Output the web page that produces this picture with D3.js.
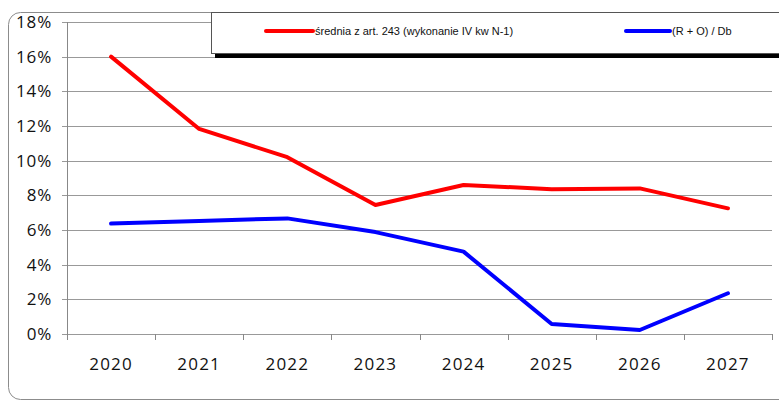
<!DOCTYPE html>
<html><head><meta charset="utf-8">
<script src="https://cdn.jsdelivr.net/npm/d3@7/dist/d3.min.js"></script>
<style>body{margin:0;background:#fff}svg{display:block}</style>
</head><body>
<script>
const years = ["2020","2021","2022","2023","2024","2025","2026","2027"];
const sredniaValues = [16.0, 11.83, 10.2, 7.44, 8.6, 8.35, 8.4, 7.25];
const roDbValues = [6.37, 6.52, 6.67, 5.88, 4.75, 0.58, 0.23, 2.35];
const yTicks = [0,2,4,6,8,10,12,14,16,18];
const seriesNames = ["średnia z art. 243 (wykonanie IV kw N-1)", "(R + O) / Db"];
const seriesColors = ["#ff0000", "#0000ff"];

(function () {
const W = 779, H = 403;
const svg = d3.select("body").append("svg").attr("width", W).attr("height", H);

// outer rounded border
svg.append("rect").attr("x", 8.5).attr("y", 12.5).attr("width", 790).attr("height", 387)
  .attr("rx", 12).attr("fill", "#fff").attr("stroke", "#8c8c8c").attr("stroke-width", 1);

const mLeft = 67, mRight = 772, mTop = 22, mBottom = 334;
const x = d3.scaleBand().domain(years).range([mLeft, mRight]);
const y = d3.scaleLinear().domain([0, 18]).range([mBottom, mTop]);

// gridlines
svg.append("g").selectAll("line").data(yTicks).join("line")
  .attr("x1", mLeft - 5).attr("x2", mRight)
  .attr("y1", d => Math.round(y(d)) + 0.5).attr("y2", d => Math.round(y(d)) + 0.5)
  .attr("stroke", "#999").attr("stroke-width", 1);

// y axis line
svg.append("line").attr("x1", mLeft + 0.5).attr("x2", mLeft + 0.5).attr("y1", mTop).attr("y2", mBottom + 1)
  .attr("stroke", "#888");

// x ticks
const xt = years.map(d => x(d)).concat([mRight]);
svg.append("g").selectAll("line").data(xt).join("line")
  .attr("x1", d => Math.round(d) + 0.5).attr("x2", d => Math.round(d) + 0.5)
  .attr("y1", mBottom).attr("y2", mBottom + 6).attr("stroke", "#888");

// y labels
svg.append("g").selectAll("text").data(yTicks).join("text")
  .attr("x", 52).attr("y", d => y(d)).attr("dy", "0.36em").attr("text-anchor", "end")
  .attr("font-family", "Open Sans, sans-serif").attr("font-size", 17).attr("letter-spacing", 0.8)
  .attr("fill", "#111")
  .text(d => d + "%");

// x labels
svg.append("g").selectAll("text").data(years).join("text")
  .attr("x", d => x(d) + x.bandwidth() / 2).attr("y", 364).attr("dy", "0.36em")
  .attr("text-anchor", "middle")
  .attr("font-family", "Open Sans, sans-serif").attr("font-size", 17).attr("letter-spacing", 1.2)
  .attr("fill", "#111")
  .text(d => d);

const line = d3.line().x((d, i) => x(years[i]) + x.bandwidth() / 2).y(d => y(d));
[sredniaValues, roDbValues].forEach((vals, k) => {
  svg.append("path").datum(vals).attr("d", line).attr("fill", "none")
    .attr("stroke", seriesColors[k]).attr("stroke-width", 4)
    .attr("stroke-linejoin", "round").attr("stroke-linecap", "round");
});

// legend
svg.append("rect").attr("x", 215).attr("y", 53).attr("width", 570).attr("height", 5).attr("fill", "#000");
svg.append("rect").attr("x", 211.5).attr("y", 12.5).attr("width", 580).attr("height", 41)
  .attr("fill", "#fff").attr("stroke", "#555");
const legX = [266, 626];
const legLen = [47, 44];
seriesNames.forEach((n, k) => {
  svg.append("line").attr("x1", legX[k]).attr("x2", legX[k] + legLen[k]).attr("y1", 31).attr("y2", 31)
    .attr("stroke", seriesColors[k]).attr("stroke-width", 4).attr("stroke-linecap", "round");
  svg.append("text").attr("x", legX[k] + legLen[k] + 2).attr("y", 31).attr("dy", "0.35em")
    .attr("font-family", "Liberation Sans, Arial, sans-serif").attr("font-size", 11).attr("fill", "#111")
    .text(n);
});
})();
</script>
</body></html>
